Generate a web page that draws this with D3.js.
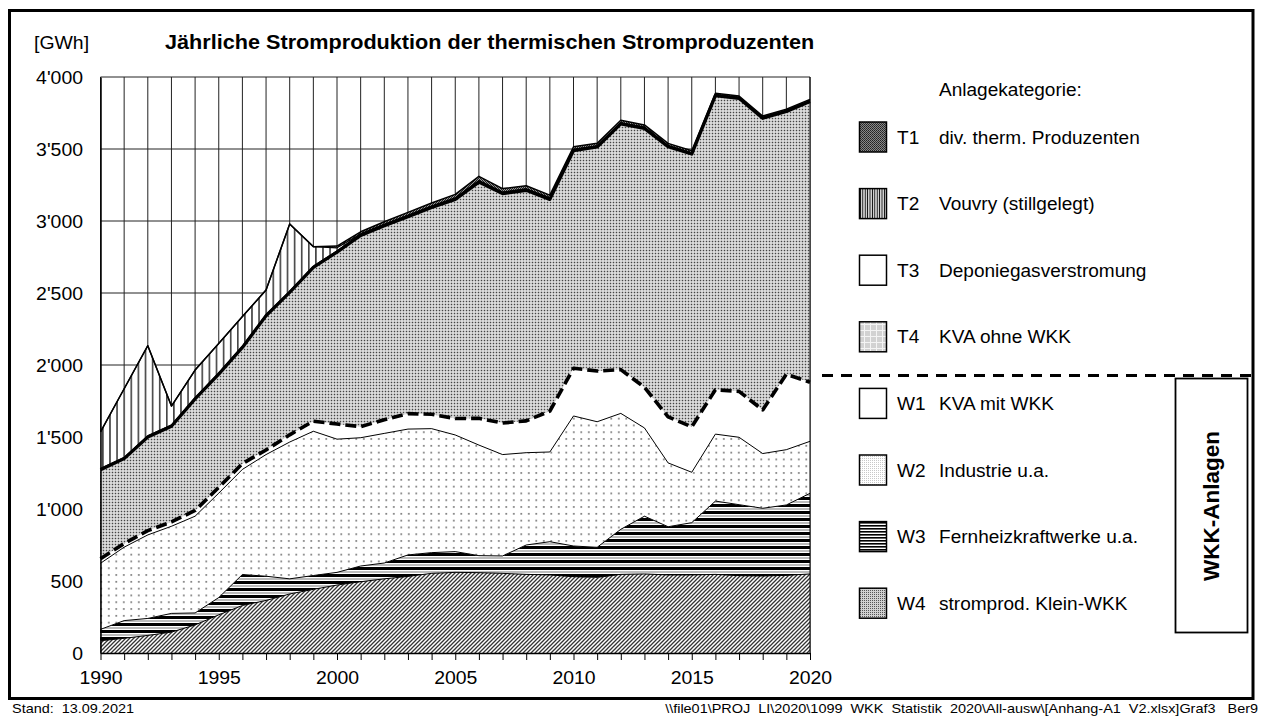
<!DOCTYPE html>
<html><head><meta charset="utf-8">
<script src="https://cdn.jsdelivr.net/npm/d3@7"></script>
<style>
body{margin:0;background:#fff;}
svg{display:block;font-family:"Liberation Sans",Arial,sans-serif;}
</style></head><body>
<svg id="chart" width="1262" height="717"></svg>
<script>
// ---------- DATA (GWh per category, stacked bottom -> top) ----------
const years = [1990,1991,1992,1993,1994,1995,1996,1997,1998,1999,2000,2001,2002,2003,2004,2005,2006,2007,2008,2009,2010,2011,2012,2013,2014,2015,2016,2017,2018,2019,2020];
const W4 = [85,102,122,145,195,265,330,365,410,442,472,495,515,532,553,560,558,553,546,542,530,525,546,549,542,542,546,537,535,539,549];
const W3 = [79,123,118,130,83,120,215,168,105,96,88,109,110,149,144,144,118,121,204,231,213,209,313,401,335,363,509,493,470,489,560];
const W2 = [459,510,580,605,672,725,730,845,950,1002,925,891,900,874,861,810,768,704,641,623,903,872,805,613,443,350,465,468,380,384,361];
const W1 = [32,25,30,30,40,40,40,32,50,70,105,77,95,107,100,114,186,219,221,284,331,352,304,282,320,315,308,319,303,524,410];
const T4 = [618,590,650,665,775,787,807,932,989,1068,1194,1328,1347,1368,1435,1522,1640,1593,1601,1470,1512,1556,1706,1798,1876,1895,2043,2035,2025,1824,1949];
const T3 = [10,10,10,10,10,10,10,10,10,10,10,10,10,10,10,10,10,10,10,10,8,8,8,8,8,8,6,6,6,6,6];
const T2 = [252,475,624,130,190,203,204,169,465,134,20,0,0,0,0,0,0,0,0,0,0,0,0,0,0,0,0,0,0,0,0];
const T1 = [0,0,0,0,0,0,0,0,0,0,12,15,18,20,22,25,30,25,22,20,18,18,18,16,15,15,10,10,10,10,10];

const seriesKeys = ["W4","W3","W2","W1","T4","T3","T2","T1"];
const seriesValues = {W4, W3, W2, W1, T4, T3, T2, T1};

const legendCodes = ["T1","T2","T3","T4","W1","W2","W3","W4"];
const legendLabels = ["div. therm. Produzenten","Vouvry (stillgelegt)","Deponiegasverstromung","KVA ohne WKK","KVA mit WKK","Industrie u.a.","Fernheizkraftwerke u.a.","stromprod. Klein-WKK"];

const yTicks = [0,500,1000,1500,2000,2500,3000,3500,4000];
const xLabelYears = [1990,1995,2000,2005,2010,2015,2020];

const titleText = "Jährliche Stromproduktion der thermischen Stromproduzenten";
const unitText = "[GWh]";
const legendTitle = "Anlagekategorie:";
const wkkText = "WKK-Anlagen";
const footLeft = "Stand:  13.09.2021";
const footRight = "\\\\file01\\PROJ  LI\\2020\\1099  WKK  Statistik  2020\\All-ausw\\[Anhang-A1  V2.xlsx]Graf3   Ber9";

// ---------- SETUP ----------
const svg = d3.select("#chart");
const x = d3.scaleLinear().domain([1990,2020]).range([100.5,810]);
const y = d3.scaleLinear().domain([0,4000]).range([653,77]);

const defs = svg.append("defs");
function pat(id,w,h,build){
  const p = defs.append("pattern").attr("id",id).attr("width",w).attr("height",h).attr("patternUnits","userSpaceOnUse");
  build(p); return p;
}
// chart patterns
pat("pW4",4,4,p=>{p.append("rect").attr("width",4).attr("height",4).attr("fill","#fff");
  p.append("path").attr("d","M-1,1 L1,-1 M0,4 L4,0 M3,5 L5,3").attr("stroke","#333").attr("stroke-width",1.3);});
pat("pW3",7,7,p=>{p.append("rect").attr("width",7).attr("height",7).attr("fill","#fff");
  p.append("rect").attr("width",7).attr("height",3).attr("fill","#000");
  p.append("rect").attr("y",4.5).attr("width",7).attr("height",1).attr("fill","#777");});
pat("pW2",7.5,6.8,p=>{p.append("rect").attr("width",7.5).attr("height",6.8).attr("fill","#fff");
  p.append("rect").attr("x",3).attr("y",3).attr("width",1.6).attr("height",1.6).attr("fill","#666");});
pat("pT4",3,3,p=>{p.append("rect").attr("width",3).attr("height",3).attr("fill","#e4e4e4");
  p.append("rect").attr("x",0.75).attr("y",0.75).attr("width",1.5).attr("height",1.5).attr("fill","#444");});
pat("pT2",7.1,10,p=>{p.append("rect").attr("width",7.1).attr("height",10).attr("fill","#fff");
  p.append("line").attr("x1",3.5).attr("x2",3.5).attr("y1",0).attr("y2",10).attr("stroke","#000").attr("stroke-width",1.2);});
pat("pT1",2,2,p=>{p.append("rect").attr("width",2).attr("height",2).attr("fill","#999");
  p.append("rect").attr("width",1).attr("height",1).attr("fill","#222");
  p.append("rect").attr("x",1).attr("y",1).attr("width",1).attr("height",1).attr("fill","#222");});
// legend patterns
pat("lT1",2,2,p=>{p.append("rect").attr("width",2).attr("height",2).attr("fill","#888");
  p.append("rect").attr("width",1).attr("height",1).attr("fill","#222");
  p.append("rect").attr("x",1).attr("y",1).attr("width",1).attr("height",1).attr("fill","#333");});
pat("lT2",2.4,10,p=>{p.append("rect").attr("width",2.4).attr("height",10).attr("fill","#fff");
  p.append("line").attr("x1",1.2).attr("x2",1.2).attr("y1",0).attr("y2",10).attr("stroke","#000").attr("stroke-width",1.1);});
pat("lT4",6,6,p=>{p.append("rect").attr("width",6).attr("height",6).attr("fill","#d2d2d2");
  p.append("rect").attr("width",6).attr("height",1).attr("fill","#f4f4f4");
  p.append("rect").attr("width",1).attr("height",6).attr("fill","#f4f4f4");});
pat("lW2",2,2,p=>{p.append("rect").attr("width",2).attr("height",2).attr("fill","#fff");
  p.append("rect").attr("width",1).attr("height",1).attr("fill","#c8c8c8");});
pat("lW3",3,3,p=>{p.append("rect").attr("width",3).attr("height",3).attr("fill","#fff");
  p.append("rect").attr("width",3).attr("height",1.6).attr("fill","#000");});
pat("lW4",2,2,p=>{p.append("rect").attr("width",2).attr("height",2).attr("fill","#d0d0d0");
  p.append("rect").attr("width",1).attr("height",1).attr("fill","#555");});

const chartFill = {W4:"url(#pW4)",W3:"url(#pW3)",W2:"url(#pW2)",W1:"#fff",T4:"url(#pT4)",T3:"#fff",T2:"url(#pT2)",T1:"url(#pT1)"};
const legendFill = {W4:"url(#lW4)",W3:"url(#lW3)",W2:"url(#lW2)",W1:"#fff",T4:"url(#lT4)",T3:"#fff",T2:"url(#lT2)",T1:"url(#lT1)"};
const lineStyle = {
  W4:{w:1,d:null}, W3:{w:1,d:null}, W2:{w:1,d:null}, W1:{w:3.6,d:"11,5"},
  T4:{w:3.2,d:null}, T3:{w:1,d:null}, T2:{w:1.3,d:null}, T1:{w:1.5,d:null}
};

// text helper with horizontal stretch
function txt(g,xp,yp,s,o){
  o=o||{};
  const t=g.append("text")
    .attr("transform",`translate(${xp},${yp}) scale(${o.sx||1},1)`+(o.rot?` rotate(${o.rot})`:""))
    .attr("font-size",o.size||18).attr("text-anchor",o.anchor||"start")
    .attr("font-weight",o.bold?"bold":"normal").attr("fill","#000").text(s);
  if(o.pre) t.style("white-space","pre");
  return t;
}

// ---------- FRAME ----------
svg.append("rect").attr("x",9.5).attr("y",10.5).attr("width",1243.5).attr("height",688)
  .attr("fill","none").attr("stroke","#000").attr("stroke-width",3);

// ---------- GRID ----------
const grid = svg.append("g");
grid.selectAll("line.v").data(years).join("line").attr("class","v")
  .attr("x1",d=>x(d)).attr("x2",d=>x(d)).attr("y1",y(4000)).attr("y2",y(0))
  .attr("stroke","#222").attr("stroke-width",1);
grid.selectAll("line.h").data(yTicks).join("line").attr("class","h")
  .attr("x1",x(1990)).attr("x2",x(2020)).attr("y1",d=>y(d)).attr("y2",d=>y(d))
  .attr("stroke","#222").attr("stroke-width",1);

// ---------- STACKED AREAS ----------
const table = years.map((yr,i)=>{const o={year:yr}; seriesKeys.forEach(k=>o[k]=seriesValues[k][i]); return o;});
const layers = d3.stack().keys(seriesKeys)(table);
const area = d3.area().x(d=>x(d.data.year)).y0(d=>y(d[0])).y1(d=>y(d[1]));
const topLine = d3.line().x(d=>x(d.data.year)).y(d=>y(d[1]));

svg.append("g").selectAll("path").data(layers).join("path")
  .attr("d",area).attr("fill",d=>chartFill[d.key]).attr("stroke","none");
svg.append("g").selectAll("path").data(layers).join("path")
  .attr("d",topLine).attr("fill","none").attr("stroke","#000")
  .attr("stroke-width",d=>lineStyle[d.key].w)
  .attr("stroke-dasharray",d=>lineStyle[d.key].d)
  .attr("stroke-linejoin","round");

// right border line of plot
svg.append("line").attr("x1",x(2020)).attr("x2",x(2020)).attr("y1",y(4000)).attr("y2",y(0)).attr("stroke","#000").attr("stroke-width",1);

// ---------- AXES ----------
const fmt = d3.formatLocale({decimal:".",thousands:"'",grouping:[3],currency:["",""]}).format(",");
const xAxis = svg.append("g").attr("transform",`translate(0,${y(0)})`)
  .call(d3.axisBottom(x).tickValues(years).tickSize(7).tickSizeOuter(0)
     .tickFormat(d=>xLabelYears.includes(d)?String(d):""));
xAxis.select(".domain").attr("stroke","#000").attr("stroke-width",1.5);
xAxis.selectAll(".tick line").attr("stroke","#000").attr("stroke-width",1);
xAxis.selectAll(".tick text").attr("y",31).attr("dy",0).attr("font-size",18)
  .attr("font-family","Liberation Sans, Arial, sans-serif").attr("fill","#000")
  .attr("transform","scale(1.08,1)");

const yAxis = svg.append("g").attr("transform",`translate(${x(1990)},0)`)
  .call(d3.axisLeft(y).tickValues(yTicks).tickSize(0).tickSizeOuter(0).tickFormat(fmt));
yAxis.select(".domain").attr("stroke","#000").attr("stroke-width",1.5);
yAxis.selectAll(".tick text").attr("x",-17.5/1.08).attr("dy","0.36em").attr("font-size",18)
  .attr("font-family","Liberation Sans, Arial, sans-serif").attr("fill","#000")
  .attr("transform","scale(1.08,1)");

// ---------- TITLES ----------
txt(svg,34,49,unitText,{size:18,sx:1.08});
txt(svg,165,49,titleText,{size:19.5,sx:1.11,bold:true});

// ---------- LEGEND ----------
txt(svg,939,96,legendTitle,{size:18.5,sx:1.03});
const rowY = d3.scalePoint().domain(legendCodes).range([137,603.2]);
const lg = svg.append("g");
legendCodes.forEach((c,i)=>{
  const cy = rowY(c);
  lg.append("rect").attr("x",859.5).attr("y",cy-15).attr("width",27).attr("height",30)
    .attr("fill",legendFill[c]).attr("stroke","#000").attr("stroke-width",1.5);
  txt(lg,897,cy+6.6,c,{size:18.5,sx:1.03});
  txt(lg,939,cy+6.6,legendLabels[i],{size:18.5,sx:1.03});
});

// dashed separator between T and W categories
svg.append("line").attr("x1",822).attr("x2",1253).attr("y1",375.5).attr("y2",375.5)
  .attr("stroke","#000").attr("stroke-width",3).attr("stroke-dasharray","11,8");

// WKK box
svg.append("rect").attr("x",1175.5).attr("y",378.5).attr("width",72).attr("height",254)
  .attr("fill","#fff").attr("stroke","#000").attr("stroke-width",1.8);
txt(svg,1218.5,506,wkkText,{size:22.5,bold:true,anchor:"middle",rot:-90});

// ---------- FOOTER ----------
txt(svg,12,713,footLeft,{size:13.5,sx:1.07,pre:true});
txt(svg,1258,713,footRight,{size:13.5,sx:1.07,anchor:"end",pre:true});
</script>
</body></html>
